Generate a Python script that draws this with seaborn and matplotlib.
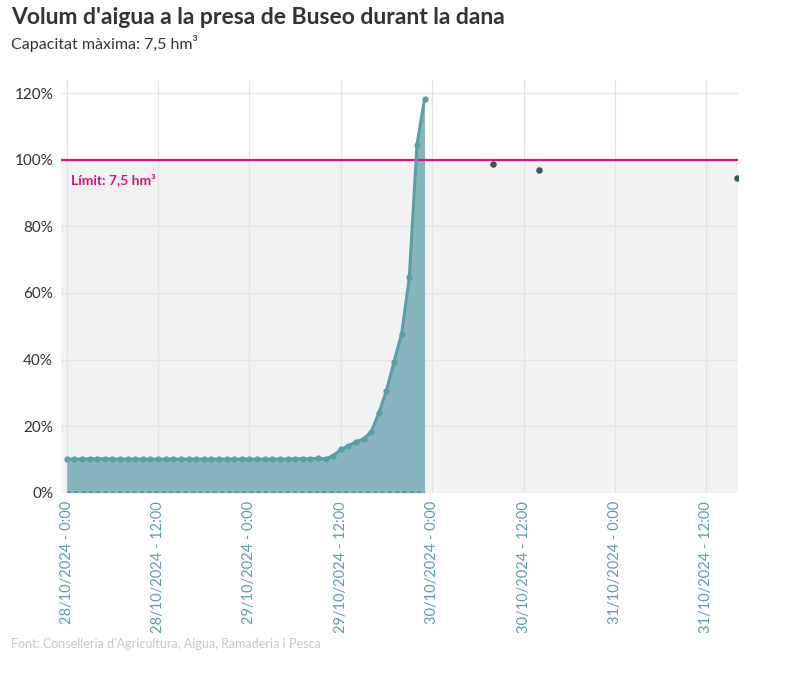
import numpy as np
import pandas as pd
import matplotlib
matplotlib.use("Agg")
import matplotlib.pyplot as plt
import matplotlib.transforms as mtransforms
import seaborn as sns

hours = list(range(0, 48))
values = [10.0, 10.1, 10.1, 10.2, 10.2, 10.2, 10.1, 10.1, 10.1, 10.1, 10.1, 10.1,
          10.1, 10.1, 10.1, 10.1, 10.1, 10.1, 10.1, 10.1, 10.1, 10.1, 10.1, 10.1,
          10.1, 10.1, 10.1, 10.1, 10.1, 10.1, 10.2, 10.2, 10.2, 10.3,
          10.2, 11.1, 13.0, 14.1, 15.3, 16.2, 18.3, 24.0, 30.7, 39.4, 47.8, 64.7, 104.4, 118.2]
late_hours = [56, 62, 88]
late_values = [98.6, 96.8, 94.4]
tick_hours = [0, 12, 24, 36, 48, 60, 72, 84]
tick_labels = ["28/10/2024 - 0:00", "28/10/2024 - 12:00", "29/10/2024 - 0:00", "29/10/2024 - 12:00",
               "30/10/2024 - 0:00", "30/10/2024 - 12:00", "31/10/2024 - 0:00", "31/10/2024 - 12:00"]
y_ticks = [0, 20, 40, 60, 80, 100, 120]

plt.rcParams["font.family"] = "Lato"
teal = "#5b9ea8"
fig = plt.figure(figsize=(7.87, 6.94), dpi=100)
ax = fig.add_axes([0.078, 0.29, 0.86, 0.595])

ax.axhspan(0, 100, color="#f2f2f2", zorder=0)
ax.axhline(100, color="#d4157f", lw=1.6, zorder=3)
ax.text(0.5, 96, "Límit: 7,5 hm³", color="#d4157f", fontsize=10, fontweight="bold", va="top", zorder=4)

df = pd.DataFrame({"h": hours, "v": values})
ax.fill_between(df["h"], 0, df["v"], color="#88b5bd", zorder=1, lw=0)
ax.plot([hours[0], hours[-1]], [0.3, 0.3], ls=(0, (2, 1.5)), color=teal, lw=1.5, zorder=2)
sns.lineplot(data=df, x="h", y="v", ax=ax, color=teal, lw=2.2, marker="o", markersize=4.5,
             markeredgewidth=0, zorder=3)
sns.scatterplot(x=late_hours, y=late_values, ax=ax, color="#3b5a5a", s=22, linewidth=0, zorder=3)

ax.set_xlim(-0.7, 88.2)
ax.set_ylim(0, 124)
ax.set_xticks(tick_hours)
ax.set_xticklabels(tick_labels, rotation=90, color=teal, fontsize=10.5)
offset = mtransforms.ScaledTranslation(5 / 72, 0, fig.dpi_scale_trans)
for lab in ax.get_xticklabels():
    lab.set_transform(lab.get_transform() + offset)
ax.set_yticks(y_ticks)
ax.set_yticklabels([f"{v}%" for v in y_ticks], color="#333333", fontsize=11)
ax.grid(True, color="#e4e4e4", lw=0.9)
ax.set_axisbelow(True)
for s in ax.spines.values():
    s.set_visible(False)
ax.tick_params(length=0, pad=6)
ax.set_xlabel("")
ax.set_ylabel("")

fig.text(0.014, 0.965, "Volum d'aigua a la presa de Buseo durant la dana", fontsize=16.5,
         fontweight="bold", color="#333333")
fig.text(0.014, 0.93, "Capacitat màxima: 7,5 hm³", fontsize=11.5, color="#333333")
fig.text(0.014, 0.066, "Font: Conselleria d'Agricultura, Aigua, Ramaderia i Pesca", fontsize=9, color="#c8c8c8")
fig.savefig("out.png", dpi=100, facecolor="white")
